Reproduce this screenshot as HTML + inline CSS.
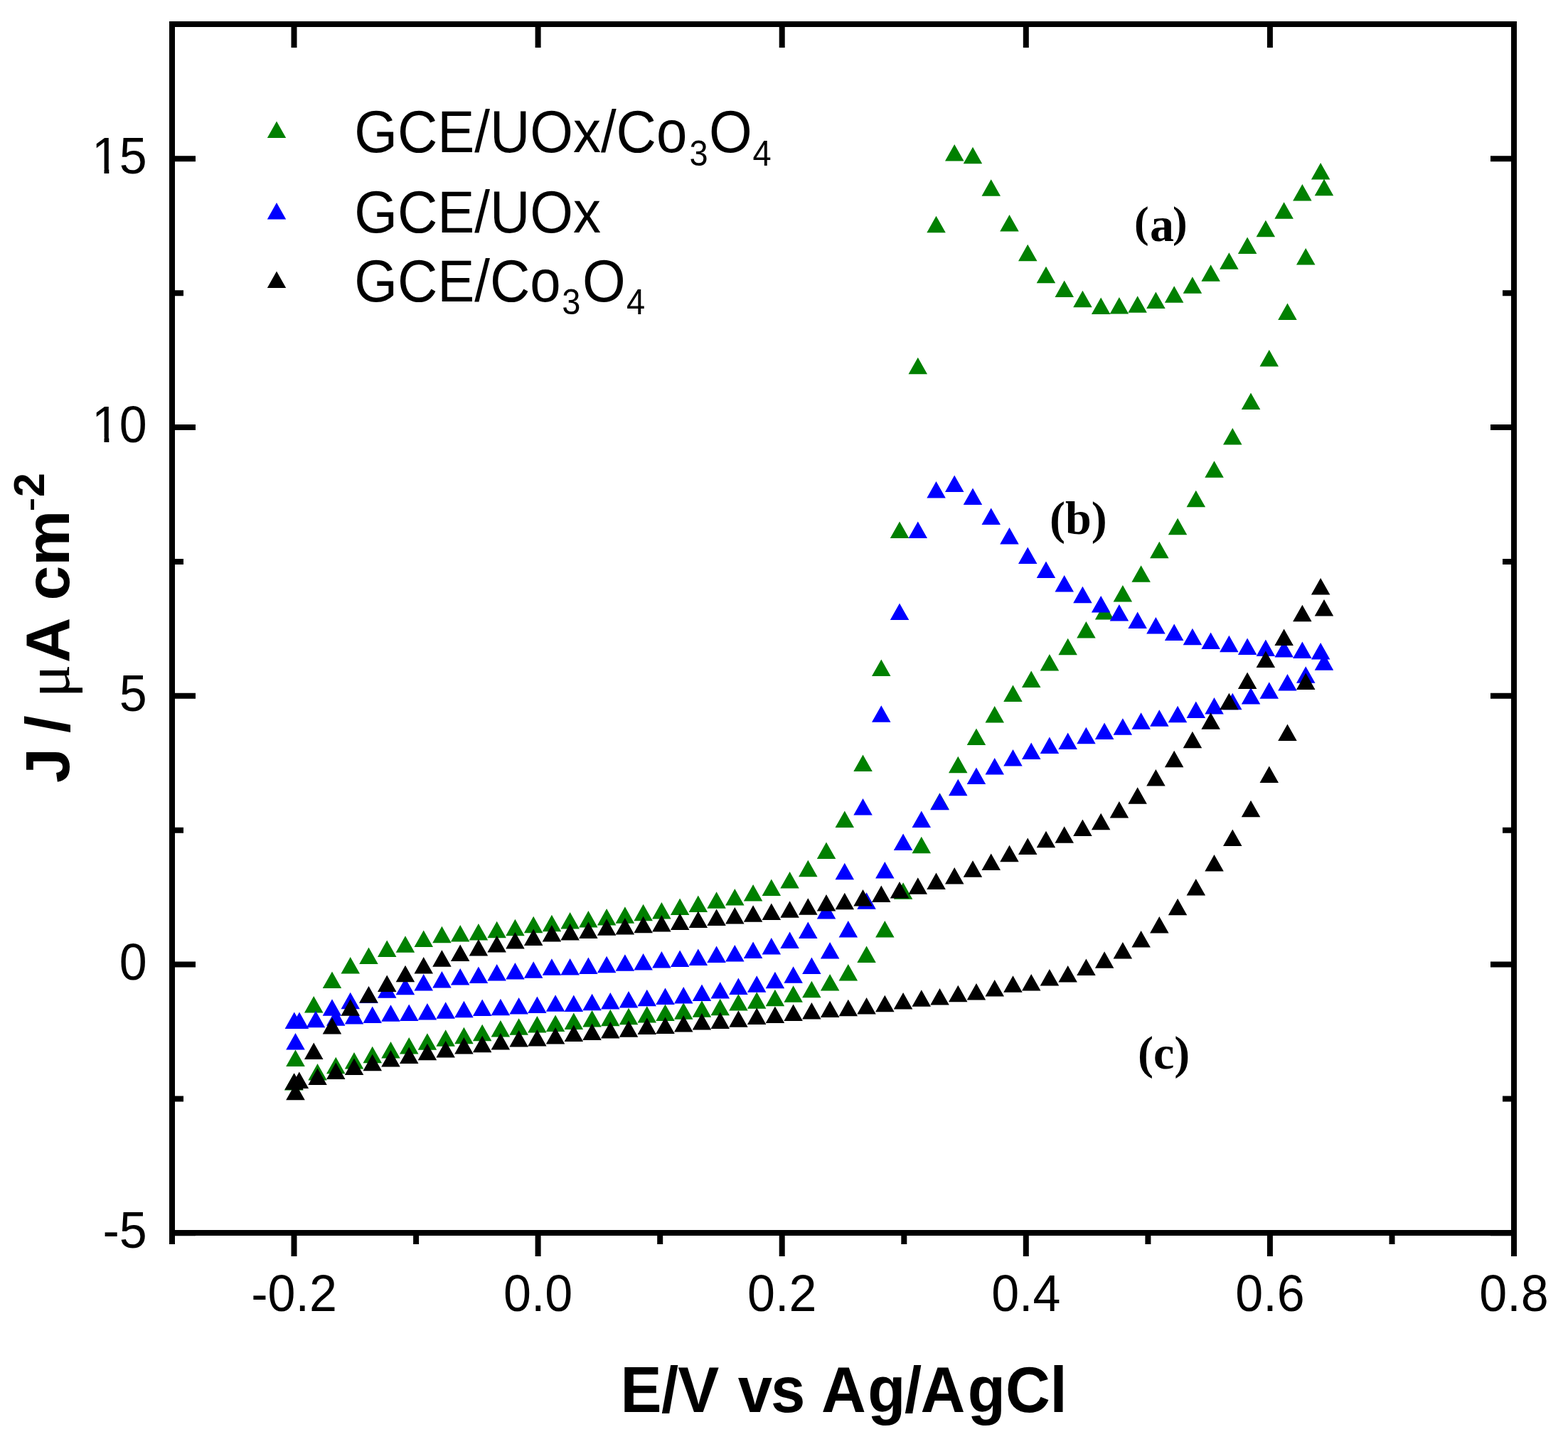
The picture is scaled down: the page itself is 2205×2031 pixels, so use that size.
<!DOCTYPE html><html><head><meta charset="utf-8"><title>CV plot</title><style>html,body{margin:0;padding:0;background:#fff;overflow:hidden}svg{display:block}</style></head><body><svg width="2205" height="2031" viewBox="0 0 2205 2031"><rect width="2205" height="2031" fill="#fff"/><path fill="#008000" d="M402.2 1500.1H428.8L415.5 1476.6ZM428.0 1424.4H454.5L441.2 1400.9ZM453.7 1390.1H480.2L467.0 1366.6ZM479.5 1369.6H506.0L492.7 1346.1ZM505.2 1356.0H531.7L518.5 1332.5ZM531.0 1346.0H557.5L544.2 1322.5ZM556.7 1339.7H583.2L570.0 1316.2ZM582.5 1332.0H609.0L595.7 1308.5ZM608.2 1326.2H634.7L621.4 1302.7ZM633.9 1324.6H660.4L647.2 1301.1ZM659.7 1322.5H686.2L672.9 1299.0ZM685.4 1319.3H711.9L698.7 1295.8ZM711.2 1316.3H737.7L724.4 1292.8ZM736.9 1312.3H763.4L750.2 1288.8ZM762.7 1310.3H789.2L775.9 1286.8ZM788.4 1306.6H814.9L801.6 1283.1ZM814.1 1304.6H840.6L827.4 1281.1ZM839.9 1301.5H866.4L853.1 1278.0ZM865.6 1298.7H892.1L878.9 1275.2ZM891.4 1295.3H917.9L904.6 1271.8ZM917.1 1292.4H943.6L930.4 1268.9ZM942.9 1287.0H969.4L956.1 1263.5ZM968.6 1283.1H995.1L981.8 1259.6ZM994.3 1277.7H1020.8L1007.6 1254.2ZM1020.1 1273.4H1046.6L1033.3 1249.9ZM1045.8 1267.5H1072.3L1059.1 1244.0ZM1071.6 1260.0H1098.1L1084.8 1236.5ZM1097.3 1249.6H1123.8L1110.6 1226.1ZM1123.1 1233.3H1149.6L1136.3 1209.8ZM1148.8 1208.0H1175.3L1162.0 1184.5ZM1174.5 1164.1H1201.0L1187.8 1140.6ZM1200.3 1085.1H1226.8L1213.5 1061.6ZM1226.0 951.1H1252.5L1239.3 927.6ZM1251.8 757.0H1278.3L1265.0 733.5ZM1277.5 526.3H1304.0L1290.8 502.8ZM1303.3 327.2H1329.8L1316.5 303.7ZM1329.0 226.5H1355.5L1342.2 203.0ZM1354.7 230.2H1381.2L1368.0 206.7ZM1380.5 275.7H1407.0L1393.7 252.2ZM1406.2 325.5H1432.7L1419.5 302.0ZM1432.0 367.2H1458.5L1445.2 343.7ZM1457.7 398.2H1484.2L1471.0 374.7ZM1483.5 418.1H1510.0L1496.7 394.6ZM1509.2 432.2H1535.7L1522.4 408.7ZM1534.9 441.9H1561.4L1548.2 418.4ZM1560.7 441.5H1587.2L1573.9 418.0ZM1586.4 439.7H1612.9L1599.7 416.2ZM1612.2 433.9H1638.7L1625.4 410.4ZM1637.9 425.7H1664.4L1651.2 402.2ZM1663.7 412.7H1690.2L1676.9 389.2ZM1689.4 395.8H1715.9L1702.6 372.3ZM1715.1 378.7H1741.6L1728.4 355.2ZM1740.9 357.1H1767.4L1754.1 333.6ZM1766.6 333.2H1793.1L1779.9 309.7ZM1792.4 307.7H1818.9L1805.6 284.2ZM1818.1 282.4H1844.6L1831.4 258.9ZM1843.9 252.5H1870.4L1857.1 229.0ZM433.3 1519.4H459.8L446.5 1495.9ZM459.0 1510.3H485.5L472.3 1486.8ZM484.8 1503.5H511.3L498.0 1480.0ZM510.5 1495.3H537.0L523.7 1471.8ZM536.2 1488.5H562.7L549.5 1465.0ZM562.0 1482.4H588.5L575.2 1458.9ZM587.7 1476.7H614.2L600.9 1453.2ZM613.4 1471.8H639.9L626.7 1448.3ZM639.2 1468.2H665.7L652.4 1444.7ZM664.9 1464.2H691.4L678.2 1440.7ZM690.6 1458.4H717.1L703.9 1434.9ZM716.4 1455.8H742.9L729.6 1432.3ZM742.1 1452.6H768.6L755.4 1429.1ZM767.8 1451.1H794.3L781.1 1427.6ZM793.6 1448.1H820.1L806.8 1424.6ZM819.3 1444.4H845.8L832.6 1420.9ZM845.0 1443.2H871.5L858.3 1419.7ZM870.8 1441.2H897.3L884.0 1417.7ZM896.5 1438.5H923.0L909.8 1415.0ZM922.2 1436.1H948.8L935.5 1412.6ZM948.0 1433.7H974.5L961.2 1410.2ZM973.7 1430.7H1000.2L987.0 1407.2ZM999.5 1428.3H1026.0L1012.7 1404.8ZM1025.2 1421.6H1051.7L1038.4 1398.1ZM1050.9 1418.8H1077.4L1064.2 1395.3ZM1076.7 1415.2H1103.2L1089.9 1391.7ZM1102.4 1409.7H1128.9L1115.6 1386.2ZM1128.1 1403.2H1154.6L1141.4 1379.7ZM1153.9 1393.5H1180.4L1167.1 1370.0ZM1179.6 1379.4H1206.1L1192.8 1355.9ZM1205.3 1353.9H1231.8L1218.6 1330.4ZM1231.1 1318.4H1257.6L1244.3 1294.9ZM1256.8 1264.7H1283.3L1270.1 1241.2ZM1282.5 1200.2H1309.0L1295.8 1176.7ZM1308.3 1138.8H1334.8L1321.5 1115.3ZM1334.0 1087.3H1360.5L1347.3 1063.8ZM1359.7 1048.0H1386.2L1373.0 1024.5ZM1385.5 1016.4H1412.0L1398.7 992.9ZM1411.2 987.0H1437.7L1424.5 963.5ZM1437.0 967.1H1463.5L1450.2 943.6ZM1462.7 943.5H1489.2L1475.9 920.0ZM1488.4 921.3H1514.9L1501.7 897.8ZM1514.2 897.5H1540.7L1527.4 874.0ZM1539.9 871.5H1566.4L1553.1 848.0ZM1565.6 846.4H1592.1L1578.9 822.9ZM1591.4 818.7H1617.9L1604.6 795.2ZM1617.1 785.2H1643.6L1630.3 761.7ZM1642.8 752.3H1669.3L1656.1 728.8ZM1668.6 713.2H1695.1L1681.8 689.7ZM1694.3 671.7H1720.8L1707.5 648.2ZM1720.0 625.4H1746.5L1733.3 601.9ZM1745.8 576.0H1772.3L1759.0 552.5ZM1771.5 515.5H1798.0L1784.8 492.0ZM1797.2 449.9H1823.7L1810.5 426.4ZM1823.0 372.6H1849.5L1836.2 349.1ZM1848.7 275.2H1875.2L1862.0 251.7ZM399.9 1533.5H426.4L413.2 1510.0Z"/><path fill="#0000ff" d="M453.7 1428.8H480.2L467.0 1405.3ZM479.5 1419.3H506.0L492.7 1395.8ZM505.2 1411.0H531.7L518.5 1387.5ZM531.0 1403.7H557.5L544.2 1380.2ZM556.7 1399.3H583.2L570.0 1375.8ZM582.5 1393.5H609.0L595.7 1370.0ZM608.2 1389.5H634.7L621.4 1366.0ZM633.9 1385.5H660.4L647.2 1362.0ZM659.7 1383.0H686.2L672.9 1359.5ZM685.4 1379.6H711.9L698.7 1356.1ZM711.2 1377.6H737.7L724.4 1354.1ZM736.9 1375.7H763.4L750.2 1352.2ZM762.7 1371.8H789.2L775.9 1348.3ZM788.4 1371.5H814.9L801.6 1348.0ZM814.1 1370.0H840.6L827.4 1346.5ZM839.9 1368.2H866.4L853.1 1344.7ZM865.6 1365.8H892.1L878.9 1342.3ZM891.4 1364.6H917.9L904.6 1341.1ZM917.1 1361.5H943.6L930.4 1338.0ZM942.9 1359.9H969.4L956.1 1336.4ZM968.6 1358.0H995.1L981.8 1334.5ZM994.3 1353.9H1020.8L1007.6 1330.4ZM1020.1 1352.4H1046.6L1033.3 1328.9ZM1045.8 1348.0H1072.3L1059.1 1324.5ZM1071.6 1342.6H1098.1L1084.8 1319.1ZM1097.3 1334.0H1123.8L1110.6 1310.5ZM1123.1 1319.9H1149.6L1136.3 1296.4ZM1148.8 1292.4H1175.3L1162.0 1268.9ZM1174.5 1237.2H1201.0L1187.8 1213.7ZM1200.3 1146.4H1226.8L1213.5 1122.9ZM1226.0 1015.8H1252.5L1239.3 992.3ZM1251.8 872.1H1278.3L1265.0 848.6ZM1277.5 757.0H1304.0L1290.8 733.5ZM1303.3 700.6H1329.8L1316.5 677.1ZM1329.0 692.0H1355.5L1342.2 668.5ZM1354.7 710.0H1381.2L1368.0 686.5ZM1380.5 738.1H1407.0L1393.7 714.6ZM1406.2 765.4H1432.7L1419.5 741.9ZM1432.0 792.9H1458.5L1445.2 769.4ZM1457.7 813.1H1484.2L1471.0 789.6ZM1483.5 832.5H1510.0L1496.7 809.0ZM1509.2 848.2H1535.7L1522.4 824.7ZM1534.9 861.5H1561.4L1548.2 838.0ZM1560.7 873.6H1587.2L1573.9 850.1ZM1586.4 883.9H1612.9L1599.7 860.4ZM1612.2 891.5H1638.7L1625.4 868.0ZM1637.9 900.9H1664.4L1651.2 877.4ZM1663.7 907.2H1690.2L1676.9 883.7ZM1689.4 913.0H1715.9L1702.6 889.5ZM1715.1 917.2H1741.6L1728.4 893.7ZM1740.9 921.0H1767.4L1754.1 897.5ZM1766.6 923.0H1793.1L1779.9 899.5ZM1792.4 924.4H1818.9L1805.6 900.9ZM1818.1 926.0H1844.6L1831.4 902.5ZM1843.9 927.4H1870.4L1857.1 903.9ZM459.0 1442.7H485.5L472.3 1419.2ZM484.8 1440.5H511.3L498.0 1417.0ZM510.5 1439.0H537.0L523.7 1415.5ZM536.2 1436.8H562.7L549.5 1413.3ZM562.0 1436.1H588.5L575.2 1412.6ZM587.7 1434.6H614.2L600.9 1411.1ZM613.4 1432.7H639.9L626.7 1409.2ZM639.2 1431.2H665.7L652.4 1407.7ZM664.9 1429.0H691.4L678.2 1405.5ZM690.6 1428.3H717.1L703.9 1404.8ZM716.4 1426.6H742.9L729.6 1403.1ZM742.1 1424.9H768.6L755.4 1401.4ZM767.8 1422.7H794.3L781.1 1399.2ZM793.6 1423.0H820.1L806.8 1399.5ZM819.3 1421.2H845.8L832.6 1397.7ZM845.0 1419.4H871.5L858.3 1395.9ZM870.8 1417.6H897.3L884.0 1394.1ZM896.5 1415.2H923.0L909.8 1391.7ZM922.2 1412.9H948.8L935.5 1389.4ZM948.0 1411.4H974.5L961.2 1387.9ZM973.7 1408.1H1000.2L987.0 1384.6ZM999.5 1404.5H1026.0L1012.7 1381.0ZM1025.2 1398.9H1051.7L1038.4 1375.4ZM1050.9 1395.7H1077.4L1064.2 1372.2ZM1076.7 1390.3H1103.2L1089.9 1366.8ZM1102.4 1382.7H1128.9L1115.6 1359.2ZM1128.1 1370.0H1154.6L1141.4 1346.5ZM1153.9 1348.5H1180.4L1167.1 1325.0ZM1179.6 1318.4H1206.1L1192.8 1294.9ZM1205.3 1278.8H1231.8L1218.6 1255.3ZM1231.1 1235.5H1257.6L1244.3 1212.0ZM1256.8 1195.9H1283.3L1270.1 1172.4ZM1282.5 1164.1H1309.0L1295.8 1140.6ZM1308.3 1139.2H1334.8L1321.5 1115.7ZM1334.0 1119.3H1360.5L1347.3 1095.8ZM1359.7 1102.9H1386.2L1373.0 1079.4ZM1385.5 1089.5H1412.0L1398.7 1066.0ZM1411.2 1077.5H1437.7L1424.5 1054.0ZM1437.0 1067.9H1463.5L1450.2 1044.4ZM1462.7 1060.1H1489.2L1475.9 1036.6ZM1488.4 1053.9H1514.9L1501.7 1030.4ZM1514.2 1046.2H1540.7L1527.4 1022.7ZM1539.9 1040.0H1566.4L1553.1 1016.5ZM1565.6 1033.7H1592.1L1578.9 1010.2ZM1591.4 1025.8H1617.9L1604.6 1002.3ZM1617.1 1021.7H1643.6L1630.3 998.2ZM1642.8 1016.2H1669.3L1656.1 992.7ZM1668.6 1010.0H1695.1L1681.8 986.5ZM1694.3 1004.5H1720.8L1707.5 981.0ZM1720.0 998.3H1746.5L1733.3 974.8ZM1745.8 990.5H1772.3L1759.0 967.0ZM1771.5 982.7H1798.0L1784.8 959.2ZM1797.2 971.6H1823.7L1810.5 948.1ZM1823.0 960.7H1849.5L1836.2 937.2ZM1848.7 942.8H1875.2L1862.0 919.3ZM400.6 1447.0H427.1L413.8 1423.5ZM407.8 1447.0H434.2L421.0 1423.5ZM402.2 1476.5H428.8L415.5 1453.0ZM430.8 1445.2H457.2L444.0 1421.7Z"/><path fill="#000" d="M402.2 1547.2H428.8L415.5 1523.7ZM428.0 1489.9H454.5L441.2 1466.4ZM453.7 1454.4H480.2L467.0 1430.9ZM479.5 1428.8H506.0L492.7 1405.3ZM505.2 1410.5H531.7L518.5 1387.0ZM531.0 1394.9H557.5L544.2 1371.4ZM556.7 1381.3H583.2L570.0 1357.8ZM582.5 1369.5H609.0L595.7 1346.0ZM608.2 1359.7H634.7L621.4 1336.2ZM633.9 1351.9H660.4L647.2 1328.4ZM659.7 1344.6H686.2L672.9 1321.1ZM685.4 1339.6H711.9L698.7 1316.1ZM711.2 1334.4H737.7L724.4 1310.9ZM736.9 1330.1H763.4L750.2 1306.6ZM762.7 1324.6H789.2L775.9 1301.1ZM788.4 1322.4H814.9L801.6 1298.9ZM814.1 1320.0H840.6L827.4 1296.5ZM839.9 1315.8H866.4L853.1 1292.3ZM865.6 1314.6H892.1L878.9 1291.1ZM891.4 1312.3H917.9L904.6 1288.8ZM917.1 1310.5H943.6L930.4 1287.0ZM942.9 1307.9H969.4L956.1 1284.4ZM968.6 1305.1H995.1L981.8 1281.6ZM994.3 1302.1H1020.8L1007.6 1278.6ZM1020.1 1299.4H1046.6L1033.3 1275.9ZM1045.8 1296.8H1072.3L1059.1 1273.3ZM1071.6 1293.9H1098.1L1084.8 1270.4ZM1097.3 1290.7H1123.8L1110.6 1267.2ZM1123.1 1286.8H1149.6L1136.3 1263.3ZM1148.8 1281.6H1175.3L1162.0 1258.1ZM1174.5 1279.2H1201.0L1187.8 1255.7ZM1200.3 1274.5H1226.8L1213.5 1251.0ZM1226.0 1269.0H1252.5L1239.3 1245.5ZM1251.8 1263.6H1278.3L1265.0 1240.1ZM1277.5 1257.8H1304.0L1290.8 1234.3ZM1303.3 1251.1H1329.8L1316.5 1227.6ZM1329.0 1243.5H1355.5L1342.2 1220.0ZM1354.7 1233.8H1381.2L1368.0 1210.3ZM1380.5 1224.0H1407.0L1393.7 1200.5ZM1406.2 1212.3H1432.7L1419.5 1188.8ZM1432.0 1202.0H1458.5L1445.2 1178.5ZM1457.7 1192.2H1484.2L1471.0 1168.7ZM1483.5 1185.7H1510.0L1496.7 1162.2ZM1509.2 1176.0H1535.7L1522.4 1152.5ZM1534.9 1167.3H1561.4L1548.2 1143.8ZM1560.7 1150.5H1587.2L1573.9 1127.0ZM1586.4 1130.7H1612.9L1599.7 1107.2ZM1612.2 1105.6H1638.7L1625.4 1082.1ZM1637.9 1079.3H1664.4L1651.2 1055.8ZM1663.7 1052.2H1690.2L1676.9 1028.7ZM1689.4 1025.8H1715.9L1702.6 1002.3ZM1715.1 998.3H1741.6L1728.4 974.8ZM1740.9 968.9H1767.4L1754.1 945.4ZM1766.6 939.1H1793.1L1779.9 915.6ZM1792.4 908.0H1818.9L1805.6 884.5ZM1818.1 874.2H1844.6L1831.4 850.7ZM1843.9 836.6H1870.4L1857.1 813.1ZM407.6 1531.1H434.1L420.8 1507.6ZM433.3 1526.0H459.8L446.5 1502.5ZM459.0 1518.0H485.5L472.3 1494.5ZM484.8 1512.1H511.3L498.0 1488.6ZM510.5 1506.2H537.0L523.7 1482.7ZM536.2 1500.4H562.7L549.5 1476.9ZM562.0 1496.0H588.5L575.2 1472.5ZM587.7 1491.3H614.2L600.9 1467.8ZM613.4 1487.5H639.9L626.7 1464.0ZM639.2 1482.4H665.7L652.4 1458.9ZM664.9 1480.2H691.4L678.2 1456.7ZM690.6 1476.5H717.1L703.9 1453.0ZM716.4 1472.6H742.9L729.6 1449.1ZM742.1 1471.4H768.6L755.4 1447.9ZM767.8 1468.5H794.3L781.1 1445.0ZM793.6 1465.0H820.1L806.8 1441.5ZM819.3 1462.9H845.8L832.6 1439.4ZM845.0 1460.5H871.5L858.3 1437.0ZM870.8 1458.7H897.3L884.0 1435.2ZM896.5 1455.1H923.0L909.8 1431.6ZM922.2 1454.0H948.8L935.5 1430.5ZM948.0 1451.5H974.5L961.2 1428.0ZM973.7 1448.6H1000.2L987.0 1425.1ZM999.5 1447.0H1026.0L1012.7 1423.5ZM1025.2 1444.8H1051.7L1038.4 1421.3ZM1050.9 1441.1H1077.4L1064.2 1417.6ZM1076.7 1438.9H1103.2L1089.9 1415.4ZM1102.4 1436.1H1128.9L1115.6 1412.6ZM1128.1 1433.5H1154.6L1141.4 1410.0ZM1153.9 1431.0H1180.4L1167.1 1407.5ZM1179.6 1429.2H1206.1L1192.8 1405.7ZM1205.3 1426.6H1231.8L1218.6 1403.1ZM1231.1 1423.2H1257.6L1244.3 1399.7ZM1256.8 1419.5H1283.3L1270.1 1396.0ZM1282.5 1415.8H1309.0L1295.8 1392.3ZM1308.3 1413.6H1334.8L1321.5 1390.1ZM1334.0 1409.3H1360.5L1347.3 1385.8ZM1359.7 1406.5H1386.2L1373.0 1383.0ZM1385.5 1401.5H1412.0L1398.7 1378.0ZM1411.2 1395.7H1437.7L1424.5 1372.2ZM1437.0 1393.4H1463.5L1450.2 1369.9ZM1462.7 1386.4H1489.2L1475.9 1362.9ZM1488.4 1381.6H1514.9L1501.7 1358.1ZM1514.2 1372.1H1540.7L1527.4 1348.6ZM1539.9 1361.7H1566.4L1553.1 1338.2ZM1565.6 1348.4H1592.1L1578.9 1324.9ZM1591.4 1332.4H1617.9L1604.6 1308.9ZM1617.1 1312.4H1643.6L1630.3 1288.9ZM1642.8 1287.3H1669.3L1656.1 1263.8ZM1668.6 1259.4H1695.1L1681.8 1235.9ZM1694.3 1225.6H1720.8L1707.5 1202.1ZM1720.0 1190.0H1746.5L1733.3 1166.5ZM1745.8 1149.2H1772.3L1759.0 1125.7ZM1771.5 1101.1H1798.0L1784.8 1077.6ZM1797.2 1041.9H1823.7L1810.5 1018.4ZM1823.0 969.9H1849.5L1836.2 946.4ZM1848.7 866.4H1875.2L1862.0 842.9ZM400.4 1532.7H426.9L413.7 1509.2Z"/><path fill="none" stroke="#000" stroke-width="8.0" stroke-linecap="square" d="M242.0 34.0H2129.0V1734.0H242.0Z"/><path fill="none" stroke="#000" stroke-width="8.0" d="M242.0 1738.0v12M413.5 1738.0v29M413.5 38.0v29M585.1 1738.0v12M756.6 1738.0v29M756.6 38.0v29M928.2 1738.0v12M1099.7 1738.0v29M1099.7 38.0v29M1271.3 1738.0v12M1442.8 1738.0v29M1442.8 38.0v29M1614.4 1738.0v12M1785.9 1738.0v29M1785.9 38.0v29M1957.5 1738.0v12M2129.0 1738.0v29M2129.0 38.0v29M246.0 1734.3h29M2125.0 1734.3h-29M246.0 1545.5h12M2125.0 1545.5h-12M246.0 1356.6h29M2125.0 1356.6h-29M246.0 1167.7h12M2125.0 1167.7h-12M246.0 978.8h29M2125.0 978.8h-29M246.0 790.0h12M2125.0 790.0h-12M246.0 601.1h29M2125.0 601.1h-29M246.0 412.2h12M2125.0 412.2h-12M246.0 223.3h29M2125.0 223.3h-29"/><text transform="translate(206.8 999.9) scale(1 1.04)" font-family="Liberation Sans, Arial, sans-serif" font-size="70" text-anchor="end">5</text><text transform="translate(206.8 1377.7) scale(1 1.04)" font-family="Liberation Sans, Arial, sans-serif" font-size="70" text-anchor="end">0</text><text transform="translate(206.8 1755.4) scale(1 1.04)" font-family="Liberation Sans, Arial, sans-serif" font-size="70" text-anchor="end">-5</text><text transform="translate(206.8 244.4) scale(1 1.04)" font-family="Liberation Sans, Arial, sans-serif" font-size="70" text-anchor="end">5</text><clipPath id="c1_15"><rect x="0" y="0" width="400" height="237.4"/><rect x="146.5" y="0" width="6.8" height="249.4"/></clipPath><g clip-path="url(#c1_15)"><text transform="translate(128.9 244.4) scale(1 1.04)" font-family="Liberation Sans, Arial, sans-serif" font-size="70">1</text></g><text transform="translate(206.8 622.2) scale(1 1.04)" font-family="Liberation Sans, Arial, sans-serif" font-size="70" text-anchor="end">0</text><clipPath id="c1_10"><rect x="0" y="0" width="400" height="615.2"/><rect x="146.5" y="0" width="6.8" height="627.2"/></clipPath><g clip-path="url(#c1_10)"><text transform="translate(128.9 622.2) scale(1 1.04)" font-family="Liberation Sans, Arial, sans-serif" font-size="70">1</text></g><text transform="translate(413.5 1844) scale(1 1.04)" font-family="Liberation Sans, Arial, sans-serif" font-size="70" text-anchor="middle">-0.2</text><text transform="translate(756.6 1844) scale(1 1.04)" font-family="Liberation Sans, Arial, sans-serif" font-size="70" text-anchor="middle">0.0</text><text transform="translate(1099.7 1844) scale(1 1.04)" font-family="Liberation Sans, Arial, sans-serif" font-size="70" text-anchor="middle">0.2</text><text transform="translate(1442.8 1844) scale(1 1.04)" font-family="Liberation Sans, Arial, sans-serif" font-size="70" text-anchor="middle">0.4</text><text transform="translate(1785.9 1844) scale(1 1.04)" font-family="Liberation Sans, Arial, sans-serif" font-size="70" text-anchor="middle">0.6</text><text transform="translate(2129.0 1844) scale(1 1.04)" font-family="Liberation Sans, Arial, sans-serif" font-size="70" text-anchor="middle">0.8</text><text transform="translate(0 214.2) scale(1 1.06)" font-family="Liberation Sans, Arial, sans-serif"><tspan x="498.3" y="0.00" font-size="78">GCE/UOx/Co</tspan><tspan x="969.5" y="17.45" font-size="47">3</tspan><tspan x="996.9" y="0.00" font-size="78">O</tspan><tspan x="1058.6" y="17.45" font-size="47">4</tspan></text><text transform="translate(0 327.0) scale(1 1.06)" font-family="Liberation Sans, Arial, sans-serif"><tspan x="498.3" y="0.00" font-size="78">GCE/UOx</tspan></text><text transform="translate(0 423.8) scale(1 1.06)" font-family="Liberation Sans, Arial, sans-serif"><tspan x="498.3" y="0.00" font-size="78">GCE/Co</tspan><tspan x="790.2" y="17.45" font-size="47">3</tspan><tspan x="819.0" y="0.00" font-size="78">O</tspan><tspan x="880.9" y="17.45" font-size="47">4</tspan></text><path fill="#008000" d="M375.8 194.0H402.2L389.0 170.5Z"/><path fill="#0000ff" d="M375.8 308.5H402.2L389.0 285.0Z"/><path fill="#000" d="M375.8 405.0H402.2L389.0 381.5Z"/><text font-family="Liberation Serif, Times New Roman, serif" font-weight="bold"><tspan x="1594.9" y="332.8" font-size="62">(</tspan><tspan x="1616.9" y="339.2" font-size="68">a</tspan><tspan x="1649.0" y="332.8" font-size="62">)</tspan></text><text x="1476.0" y="751" font-family="Liberation Serif, Times New Roman, serif" font-weight="bold" font-size="66">(b)</text><text x="1600.0" y="1503" font-family="Liberation Serif, Times New Roman, serif" font-weight="bold" font-size="66">(c)</text><text transform="translate(0 1986.3) scale(1 1.045)" font-family="Liberation Sans, Arial, sans-serif" font-weight="bold" font-size="87"><tspan x="872.5">E</tspan><tspan x="930.0">/</tspan><tspan x="953.2">V</tspan><tspan x="1037.7">v</tspan><tspan x="1084.1">s</tspan><tspan x="1155.0">A</tspan><tspan x="1220.3">g</tspan><tspan x="1272.0">/</tspan><tspan x="1294.6">A</tspan><tspan x="1360.7">g</tspan><tspan x="1414.0">C</tspan><tspan x="1476.4">l</tspan></text><g transform="translate(97 1100) rotate(-90)"><text font-family="Liberation Sans, Arial, sans-serif" font-weight="bold"><tspan x="-1.0" y="0" font-size="88">J</tspan><tspan x="69.2" y="0" font-size="88">/</tspan><tspan x="167.7" y="0" font-size="88">A</tspan><tspan x="255.6" y="0" font-size="88">c</tspan><tspan x="304.0" y="0" font-size="88">m</tspan><tspan x="401.0" y="-34.6" font-size="61">2</tspan></text><text x="380.3" y="-34.6" font-family="Liberation Sans, Arial, sans-serif" font-size="61">-</text><text x="118.5" y="0" font-family="Liberation Serif, Times New Roman, serif" font-size="88">&#956;</text></g></svg></body></html>
